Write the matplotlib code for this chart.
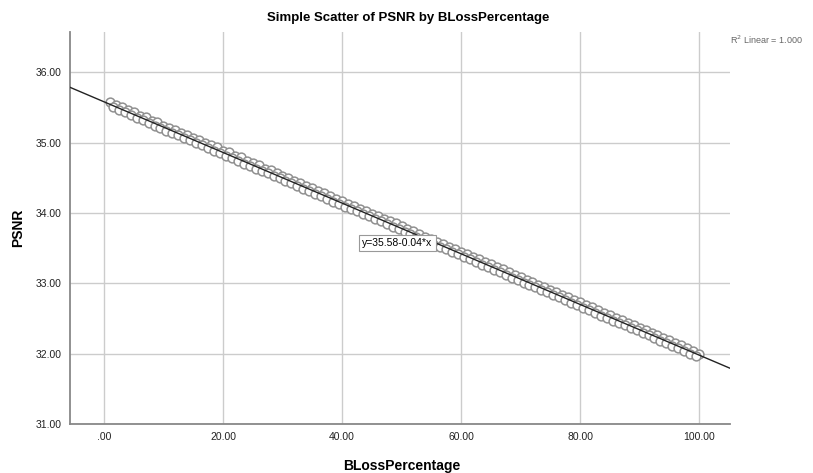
import numpy as np
import matplotlib
matplotlib.use("Agg")
import matplotlib.pyplot as plt

plt.rcParams['font.family'] = ['Liberation Sans', 'DejaVu Sans']

# points (upper and lower rows of the band)
bloss_a = [1, 2, 3, 4, 5, 6, 7, 8, 9, 10, 11, 12, 13, 14, 15, 16, 17, 18, 19, 20,
           21, 22, 23, 24, 25, 26, 27, 28, 29, 30, 31, 32, 33, 34, 35, 36, 37, 38, 39, 40,
           41, 42, 43, 44, 45, 46, 47, 48, 49, 50, 51, 52, 53, 54, 55, 56, 57, 58, 59, 60,
           61, 62, 63, 64, 65, 66, 67, 68, 69, 70, 71, 72, 73, 74, 75, 76, 77, 78, 79, 80,
           81, 82, 83, 84, 85, 86, 87, 88, 89, 90, 91, 92, 93, 94, 95, 96, 97, 98, 99, 100]
psnr_a = [35.57, 35.53, 35.50, 35.46, 35.43, 35.38, 35.36, 35.31, 35.29, 35.24,
          35.21, 35.18, 35.13, 35.11, 35.06, 35.04, 34.99, 34.96, 34.93, 34.88,
          34.86, 34.81, 34.79, 34.74, 34.71, 34.68, 34.63, 34.61, 34.56, 34.53,
          34.49, 34.46, 34.42, 34.38, 34.35, 34.31, 34.28, 34.24, 34.20, 34.17,
          34.13, 34.10, 34.06, 34.02, 33.99, 33.95, 33.92, 33.88, 33.85, 33.81,
          33.77, 33.74, 33.70, 33.66, 33.63, 33.59, 33.56, 33.52, 33.48, 33.45,
          33.41, 33.38, 33.34, 33.30, 33.27, 33.23, 33.20, 33.16, 33.12, 33.09,
          33.05, 33.02, 32.98, 32.94, 32.91, 32.87, 32.84, 32.80, 32.76, 32.73,
          32.69, 32.66, 32.62, 32.58, 32.55, 32.51, 32.48, 32.44, 32.40, 32.37,
          32.33, 32.30, 32.26, 32.22, 32.19, 32.15, 32.12, 32.08, 32.04, 32.00]

bloss_b = [1.5, 2.5, 3.5, 4.5, 5.5, 6.5, 7.5, 8.5, 9.5, 10.5, 11.5, 12.5, 13.5, 14.5,
           15.5, 16.5, 17.5, 18.5, 19.5, 20.5, 21.5, 22.5, 23.5, 24.5, 25.5, 26.5, 27.5,
           28.5, 29.5, 30.5, 31.5, 32.5, 33.5, 34.5, 35.5, 36.5, 37.5, 38.5, 39.5, 40.5,
           41.5, 42.5, 43.5, 44.5, 45.5, 46.5, 47.5, 48.5, 49.5, 50.5, 51.5, 52.5, 53.5,
           54.5, 55.5, 56.5, 57.5, 58.5, 59.5, 60.5, 61.5, 62.5, 63.5, 64.5, 65.5, 66.5,
           67.5, 68.5, 69.5, 70.5, 71.5, 72.5, 73.5, 74.5, 75.5, 76.5, 77.5, 78.5, 79.5,
           80.5, 81.5, 82.5, 83.5, 84.5, 85.5, 86.5, 87.5, 88.5, 89.5, 90.5, 91.5, 92.5,
           93.5, 94.5, 95.5, 96.5, 97.5, 98.5, 99.5]
psnr_b = [35.50, 35.46, 35.43, 35.39, 35.35, 35.32, 35.28, 35.24, 35.21, 35.17,
          35.14, 35.10, 35.06, 35.03, 34.99, 34.96, 34.92, 34.88, 34.85, 34.81,
          34.78, 34.74, 34.70, 34.67, 34.63, 34.60, 34.56, 34.52, 34.49, 34.45,
          34.42, 34.38, 34.34, 34.31, 34.27, 34.24, 34.20, 34.16, 34.13, 34.09,
          34.06, 34.02, 33.98, 33.95, 33.91, 33.88, 33.84, 33.80, 33.77, 33.73,
          33.70, 33.66, 33.62, 33.59, 33.55, 33.52, 33.48, 33.44, 33.41, 33.37,
          33.34, 33.30, 33.26, 33.23, 33.19, 33.16, 33.12, 33.08, 33.05, 33.01,
          32.98, 32.94, 32.90, 32.87, 32.83, 32.80, 32.76, 32.72, 32.69, 32.65,
          32.62, 32.58, 32.54, 32.51, 32.47, 32.44, 32.40, 32.36, 32.33, 32.29,
          32.26, 32.22, 32.18, 32.15, 32.11, 32.08, 32.04, 32.00, 31.97]

x_ticks = [0, 20, 40, 60, 80, 100]
x_labels = ['.00', '20.00', '40.00', '60.00', '80.00', '100.00']
y_ticks = [31, 32, 33, 34, 35, 36]
y_labels = ['31.00', '32.00', '33.00', '34.00', '35.00', '36.00']

x = np.array(bloss_a + bloss_b)
y = np.array(psnr_a + psnr_b)
slope, intercept = np.polyfit(x, y, 1)

fig = plt.figure(figsize=(8.13, 4.73), dpi=100)
ax = fig.add_axes([0.0861, 0.1036, 0.8119, 0.8287])
ax.set_xlim(-5.7, 105.2)
ax.set_ylim(31.0, 36.57)

ax.grid(True, color='#cccccc', linewidth=1.0)
ax.set_axisbelow(True)

ax.scatter(x, y, s=40, facecolors='white', edgecolors='#909090', linewidths=1.1, zorder=3)

xs = np.array(ax.get_xlim())
ax.plot(xs, intercept + slope * xs, color='#222222', linewidth=1.0, zorder=4)

ax.text(49.3, 33.57, f"y={intercept:.2f}-{abs(slope):.2f}*x", fontsize=7.5,
        ha='center', va='center', zorder=5,
        bbox=dict(boxstyle='square,pad=0.3', facecolor='white', edgecolor='#999999', linewidth=0.8))

ax.set_xticks(x_ticks)
ax.set_xticklabels(x_labels)
ax.set_yticks(y_ticks)
ax.set_yticklabels(y_labels)
ax.tick_params(length=0, labelsize=7.5, pad=6, labelcolor='#222222')

for s in ['top', 'right']:
    ax.spines[s].set_visible(False)
for s in ['left', 'bottom']:
    ax.spines[s].set_color('#888888')
    ax.spines[s].set_linewidth(1.3)

fig.text(0.502, 0.962, 'Simple Scatter of PSNR by BLossPercentage', fontsize=9.5,
         fontweight='bold', ha='center', va='center')
ax.set_xlabel('BLossPercentage', fontsize=10, fontweight='bold')
ax.set_ylabel('PSNR', fontsize=10, fontweight='bold')
ax.xaxis.set_label_coords(0.503, -0.107)
ax.yaxis.set_label_coords(-0.079, 0.5)
ax.xaxis.label.set_va('center')
ax.yaxis.label.set_va('center')

fig.text(0.898, 0.915, 'R$^2$ Linear = 1.000', fontsize=6.5, color='#666666', ha='left', va='center')

fig.savefig('out.png', dpi=100)
